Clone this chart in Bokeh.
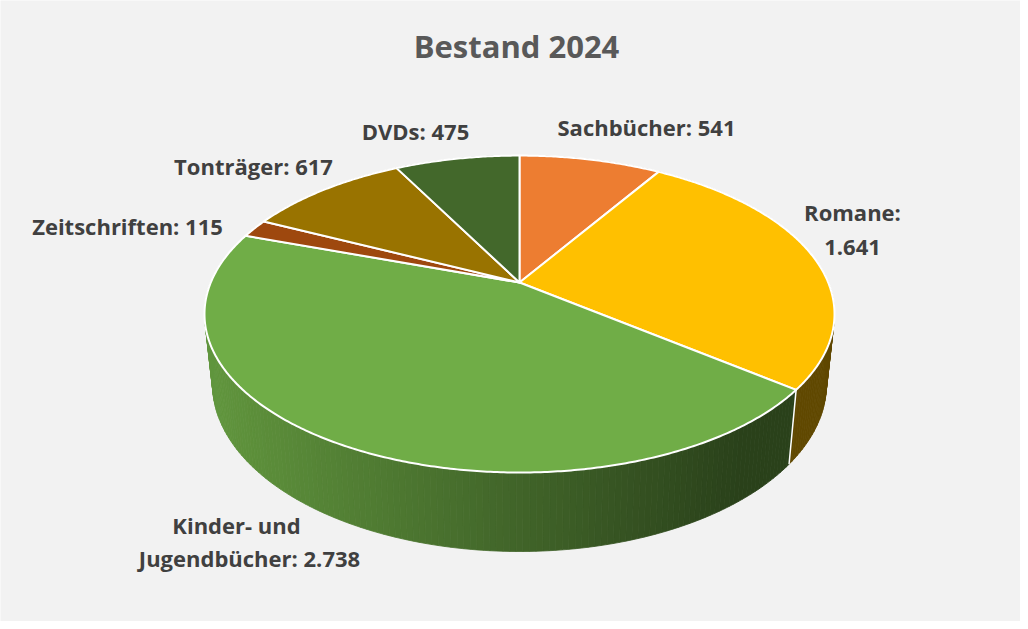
import numpy as np
from bokeh.plotting import figure
from bokeh.models import Range1d, ColumnDataSource
from bokeh.core.properties import value
from bokeh.embed import file_html
from bokeh.resources import INLINE

# ---------------- data ----------------
title = "Bestand 2024"
categories = ["Sachbücher", "Romane", "Kinder- und Jugendbücher", "Zeitschriften", "Tonträger", "DVDs"]
counts = [541, 1641, 2738, 115, 617, 475]
colors = ["#ED7D31", "#FFC000", "#70AD47", "#9E480E", "#997300", "#43682B"]

# ---------------- layout ----------------
FONT = "Open Sans"
W, H = 1020, 621
cx, cy, A, B, K = 527.0, 290.0, 308.7, 152.2, 0.199          # top face projection
cyb, Ab, Bb = 358.5, 300.8, 160.6                             # bottom face projection
# label anchors (line centres) per category, and line breaks
label_layout = [
    [(654, 134)],
    [(860, 219), (860, 255)],
    [(244, 532), (257, 565)],
    [(135, 233)],
    [(261, 173)],
    [(423, 138)],
]


def fmt(n):
    return f"{n:,}".replace(",", ".")


def label_lines(cat, n):
    txt = f"{cat}: {fmt(n)}"
    if cat == "Romane":
        return [f"{cat}:", fmt(n)]
    if cat.startswith("Kinder"):
        a, b = cat.split(" und ")
        return [a + " und", f"{b}: {fmt(n)}"]
    return [txt]


def proj(theta, top=True):
    X = np.sin(theta)
    Z = -np.cos(theta)
    d = 1 - K * Z
    if top:
        return cx + A * X / d, cy + B * Z / d
    return cx + Ab * X / d, cyb + Bb * Z / d


def shade(hexcol, xm):
    r, g, b = int(hexcol[1:3], 16), int(hexcol[3:5], 16), int(hexcol[5:7], 16)
    u = min(max((xm - 212) / (630 * 0.85), 0), 1)
    f = 0.87 - 0.49 * u
    return "#%02x%02x%02x" % (int(r * f), int(g * f), int(b * f))


total = float(sum(counts))
fr = np.cumsum([0] + counts) / total
angles = 2 * np.pi * fr

p = figure(width=W, height=H, x_range=Range1d(8, 8 + W), y_range=Range1d(8 + H, 8),
           output_backend="svg", toolbar_location=None, min_border=0)
p.axis.visible = False
p.grid.visible = False
p.outline_line_color = None
p.background_fill_color = "#f2f2f2"
p.border_fill_color = "#f2f2f2"

# ---- side walls (strips sorted back to front) ----
strips = []
for i, c in enumerate(colors):
    a0, a1 = angles[i], angles[i + 1]
    n = max(2, int(np.degrees(a1 - a0) / 1.0))
    ts = np.linspace(a0, a1, n + 1)
    for j in range(n):
        t0, t1 = ts[j], ts[j + 1]
        x0, y0 = proj(t0)
        x1, y1 = proj(t1)
        bx0, by0 = proj(t0, False)
        bx1, by1 = proj(t1, False)
        depth = -np.cos((t0 + t1) / 2)
        col = shade(c, (x0 + x1) / 2)
        strips.append((depth, [x0, x1, bx1, bx0], [y0, y1, by1, by0], col))
strips.sort(key=lambda s: s[0])
p.patches([s[1] for s in strips], [s[2] for s in strips], fill_color=[s[3] for s in strips],
          line_color=[s[3] for s in strips], line_width=0.8)

# white edges on the front wall at slice boundaries
for a in angles[:-1]:
    if -np.cos(a) > 0.05:
        x0, y0 = proj(a)
        x1, y1 = proj(a, False)
        p.line([x0, x1], [y0, y1], line_color="white", line_width=1.5)

# ---- top faces ----
xs, ys = [], []
for i in range(len(counts)):
    a0, a1 = angles[i], angles[i + 1]
    n = max(3, int(np.degrees(a1 - a0) / 0.5))
    ts = np.linspace(a0, a1, n + 1)
    px, py = proj(ts)
    xs.append([cx] + list(px))
    ys.append([cy] + list(py))
p.patches(xs, ys, fill_color=colors, line_color="white", line_width=2, line_join="round")

# ---- labels ----
tx, ty, tt = [], [], []
for i, cat in enumerate(categories):
    for (lx, ly), line in zip(label_layout[i], label_lines(cat, counts[i])):
        tx.append(lx); ty.append(ly); tt.append(line)
p.text(x=tx, y=ty, text=tt, text_font=value(FONT), text_font_style="bold",
       text_font_size="22px", text_color="#404040", text_align="center", text_baseline="middle")

p.text(x=[524], y=[53], text=[title], text_font=value(FONT), text_font_style="bold",
       text_font_size="31px", text_color="#595959", text_align="center", text_baseline="middle")

open("out.html", "w").write(file_html(p, INLINE))
